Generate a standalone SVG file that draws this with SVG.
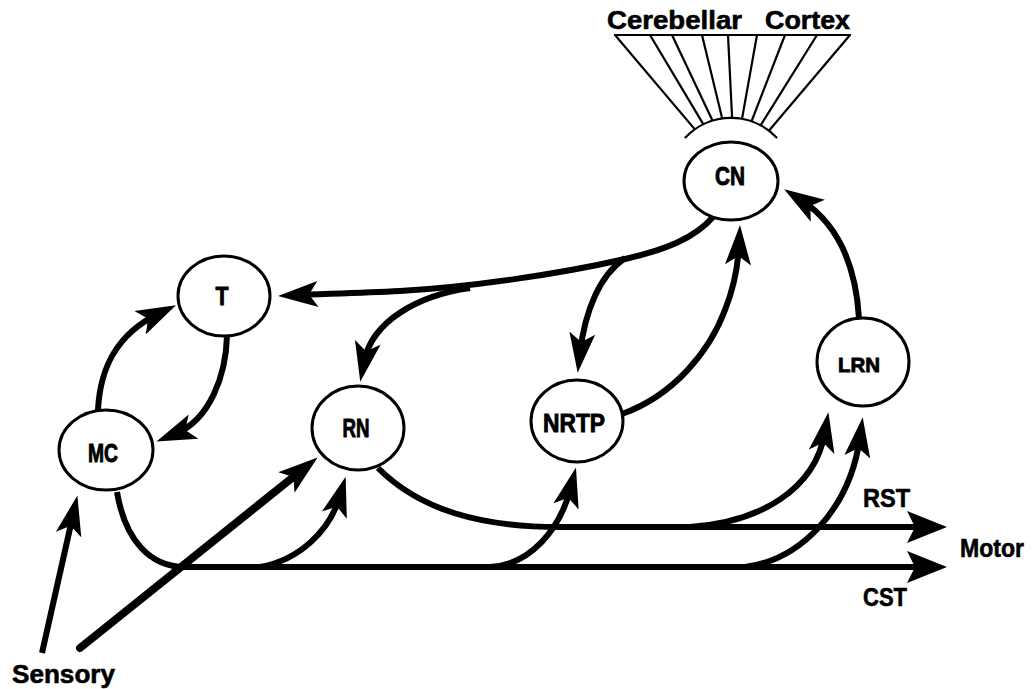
<svg xmlns="http://www.w3.org/2000/svg" width="1035" height="689" viewBox="0 0 1035 689">
<style>
.node{fill:#fff;stroke:#000;stroke-width:3}
.lbl{font-family:"Liberation Sans",Arial,sans-serif;font-weight:bold;font-size:25px;fill:#000;stroke:#000;stroke-width:0.9;text-anchor:middle}
.txt{font-family:"Liberation Sans",Arial,sans-serif;font-weight:bold;font-size:26px;fill:#000;stroke:#000;stroke-width:0.6}
.c{fill:none;stroke:#000;stroke-width:6;stroke-linecap:butt}
.fan{fill:none;stroke:#000;stroke-width:2.2}
</style>
<defs>
<marker id="ah" viewBox="0 0 40 28" markerWidth="40" markerHeight="28" refX="20" refY="14" markerUnits="userSpaceOnUse" orient="auto">
<path d="M40,14 L0,1 L9,14 L0,27 Z" fill="#000"/>
</marker>
<marker id="ahb" viewBox="0 0 40 32" markerWidth="40" markerHeight="32" refX="20" refY="16" markerUnits="userSpaceOnUse" orient="auto">
<path d="M40,16 L0,0 L8,16 L0,32 Z" fill="#000"/>
</marker>
</defs>
<g id="cortex">
<text class="txt" x="607" y="29" textLength="135" lengthAdjust="spacingAndGlyphs">Cerebellar</text>
<text class="txt" x="765" y="29" textLength="85" lengthAdjust="spacingAndGlyphs">Cortex</text>
<line class="fan" x1="614" y1="35" x2="851" y2="35"/>
<line class="fan" x1="615" y1="35" x2="694.9" y2="129.4"/>
<line class="fan" x1="650" y1="35" x2="703.4" y2="124.4"/>
<line class="fan" x1="672" y1="35" x2="712.6" y2="120.8"/>
<line class="fan" x1="702" y1="35" x2="722.2" y2="118.6"/>
<line class="fan" x1="728" y1="35" x2="732.1" y2="118"/>
<line class="fan" x1="757" y1="35" x2="742" y2="118.9"/>
<line class="fan" x1="785" y1="35" x2="751.5" y2="121.4"/>
<line class="fan" x1="817" y1="35" x2="760.6" y2="125.4"/>
<line class="fan" x1="850" y1="35" x2="768.9" y2="130.7"/>
<path class="fan" d="M684.9,138 A63,63 0 0 1 777.1,138"/>
</g>
<g id="connectors">
<path class="c" d="M713,217 C695,238 665,250 625,259 C560,274 470,287 400,291 C360,293 320,294 298,295" marker-end="url(#ah)"/>
<path class="c" d="M470,288 C420,295 372,320 364,362" marker-end="url(#ah)"/>
<path class="c" d="M625,258 C600,275 585,310 580,353" marker-end="url(#ah)"/>
<path class="c" d="M622,414 C675,395 710,350 725,310 C733,290 738,265 739,245" marker-end="url(#ah)"/>
<path class="c" d="M859,318 C856,270 840,225 801,200" marker-end="url(#ah)"/>
<path class="c" d="M227,336 C226,375 210,420 175,434" marker-end="url(#ah)"/>
<path class="c" d="M98,410 C100,370 115,335 158,314" marker-end="url(#ah)"/>
<path class="c" d="M117,492 C125,540 150,567 185,567 L927,567" marker-end="url(#ahb)"/>
<path class="c" d="M260,567 C300,560 330,530 340,496" marker-end="url(#ah)"/>
<path class="c" d="M490,567 C530,565 560,530 571,487" marker-end="url(#ah)"/>
<path class="c" d="M745,567 C800,560 850,510 860,437" marker-end="url(#ah)"/>
<path class="c" d="M378,468 C420,510 480,527 560,527 L927,527" marker-end="url(#ahb)"/>
<path class="c" d="M690,527 C760,522 815,490 825,432" marker-end="url(#ah)"/>
<path class="c" d="M42,653 L73,515" marker-end="url(#ah)"/>
<path class="c" d="M80,648 L302,470" style="stroke-width:8;stroke-linecap:round" marker-end="url(#ah)"/>
</g>
<g id="CN"><ellipse class="node" cx="731" cy="181" rx="47" ry="39"/><text class="lbl" x="730" y="185" textLength="30" lengthAdjust="spacingAndGlyphs">CN</text></g>
<g id="T"><ellipse class="node" cx="224" cy="296" rx="46" ry="40"/><text class="lbl" x="222" y="305" textLength="13" lengthAdjust="spacingAndGlyphs">T</text></g>
<g id="MC"><ellipse class="node" cx="106" cy="450" rx="47" ry="40"/><text class="lbl" x="103" y="462" textLength="30" lengthAdjust="spacingAndGlyphs">MC</text></g>
<g id="RN"><ellipse class="node" cx="358" cy="428" rx="46" ry="42"/><text class="lbl" x="356" y="437" textLength="27" lengthAdjust="spacingAndGlyphs">RN</text></g>
<g id="NRTP"><ellipse class="node" cx="577" cy="421" rx="46" ry="41"/><text class="lbl" x="574" y="432" textLength="62" lengthAdjust="spacingAndGlyphs">NRTP</text></g>
<g id="LRN"><ellipse class="node" cx="863" cy="362" rx="46" ry="44"/><text class="lbl" x="859" y="372" textLength="42" lengthAdjust="spacingAndGlyphs" style="font-size:21px">LRN</text></g>
<g id="labels">
<text class="txt" x="863" y="507" textLength="47" lengthAdjust="spacingAndGlyphs">RST</text>
<text class="txt" x="960" y="557" textLength="64" lengthAdjust="spacingAndGlyphs">Motor</text>
<text class="txt" x="863" y="606" textLength="44" lengthAdjust="spacingAndGlyphs">CST</text>
<text class="txt" x="12" y="683" textLength="103" lengthAdjust="spacingAndGlyphs">Sensory</text>
</g>
</svg>
